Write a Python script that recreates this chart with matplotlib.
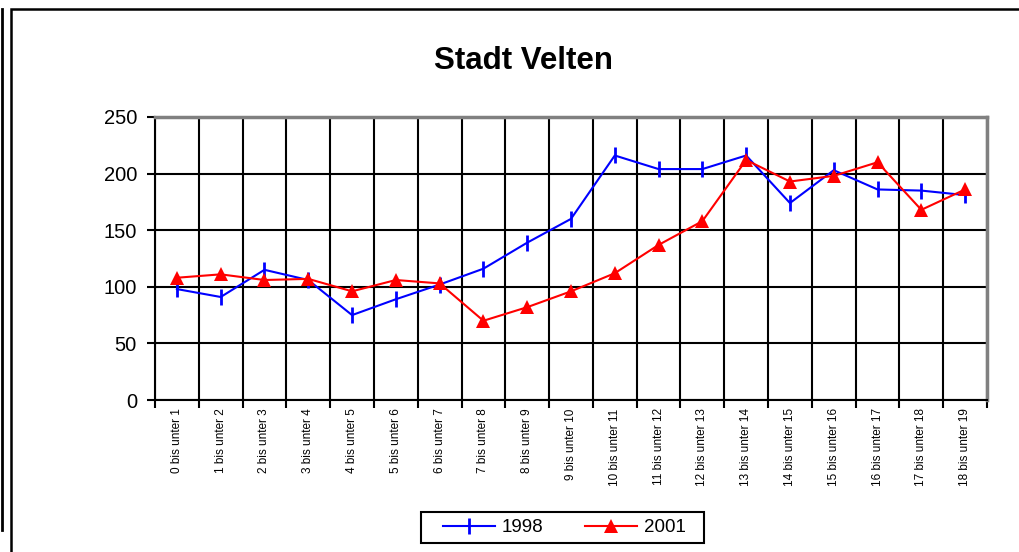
#!/usr/bin/env python
# -*- coding: utf-8 -*-

import matplotlib
matplotlib.use('Agg')
import matplotlib.pyplot as plt
import matplotlib.patches as mp
import matplotlib.lines as ml

# data
classes = ['%d bis unter %d' % (i, i + 1) for i in range(19)]
v1998 = [98, 91, 115, 106, 75, 89, 102, 116, 139, 160, 216, 204, 204, 216,
         174, 203, 186, 185, 181]
v2001 = [108, 111, 106, 107, 96, 106, 103, 70, 82, 96, 112, 137, 158, 212,
         193, 198, 210, 168, 186]
yticks = [0, 50, 100, 150, 200, 250]


def main():
    plt.rcParams['font.family'] = ['Liberation Sans', 'DejaVu Sans']
    fig = plt.figure(figsize=(10.19, 5.52), dpi=100)
    W, H = 1019.0, 552.0

    # chart frame
    fig.patches.append(mp.Rectangle((11 / W, -0.1), 1.2, 1 - 9 / H + 0.1,
                                    transform=fig.transFigure, fill=False,
                                    edgecolor='black', linewidth=1.8))
    fig.lines.append(ml.Line2D([1.5 / W, 1.5 / W], [1 - 9 / H, 1 - 530 / H],
                               transform=fig.transFigure, color='black',
                               linewidth=2))

    ax = fig.add_axes([155 / W, 1 - 400 / H, 832 / W, 283 / H])
    x = range(len(classes))
    ax.plot(x, v1998, color='#0000ff', linewidth=1.5, marker='|',
            markersize=11, markeredgewidth=2, label='1998', zorder=3)
    ax.plot(x, v2001, color='#ff0000', linewidth=1.5, marker='^',
            markersize=10, markeredgewidth=0, label='2001', zorder=4)

    # range
    ax.set_xlim(-0.5, len(classes) - 0.5)
    ax.set_ylim(0, 250)

    # grid
    ax.set_yticks(yticks)
    ax.set_yticklabels([str(v) for v in yticks], fontsize=14.5)
    ax.set_xticks(list(x))
    ax.set_xticklabels(classes, rotation=90, fontsize=8.5)
    ax.set_xticks([k - 0.5 for k in range(len(classes) + 1)], minor=True)
    ax.tick_params(axis='x', which='major', length=0, pad=6)
    ax.tick_params(axis='x', which='minor', length=6, width=1.5,
                   direction='out')
    ax.tick_params(axis='y', length=6, width=1.5, direction='out', pad=7)
    ax.grid(axis='y', which='major', color='black', linewidth=1.5)
    ax.grid(axis='x', which='minor', color='black', linewidth=1.5)
    ax.set_axisbelow(True)
    for s in ['left', 'bottom']:
        ax.spines[s].set_color('black')
        ax.spines[s].set_linewidth(1.5)
    for s in ['top', 'right']:
        ax.spines[s].set_color('#808080')
        ax.spines[s].set_linewidth(2.5)

    fig.text(523 / W, 1 - 61 / H, 'Stadt Velten', fontsize=22.5,
             fontweight='bold', ha='center', va='center')

    # legend
    fig.patches.append(mp.Rectangle((421 / W, 1 - 543 / H), 283 / W, 31 / H,
                                    transform=fig.transFigure, fill=False,
                                    edgecolor='black', linewidth=1.5))
    fig.legend(loc='center', bbox_to_anchor=(564 / W, 1 - 527.5 / H),
               ncol=2, fontsize=13.5, frameon=False,
               handlelength=2.8, handletextpad=0.35, columnspacing=2.2,
               borderpad=0, borderaxespad=0)

    plt.savefig('out.png', dpi=100)


if __name__ == '__main__':
    main()
